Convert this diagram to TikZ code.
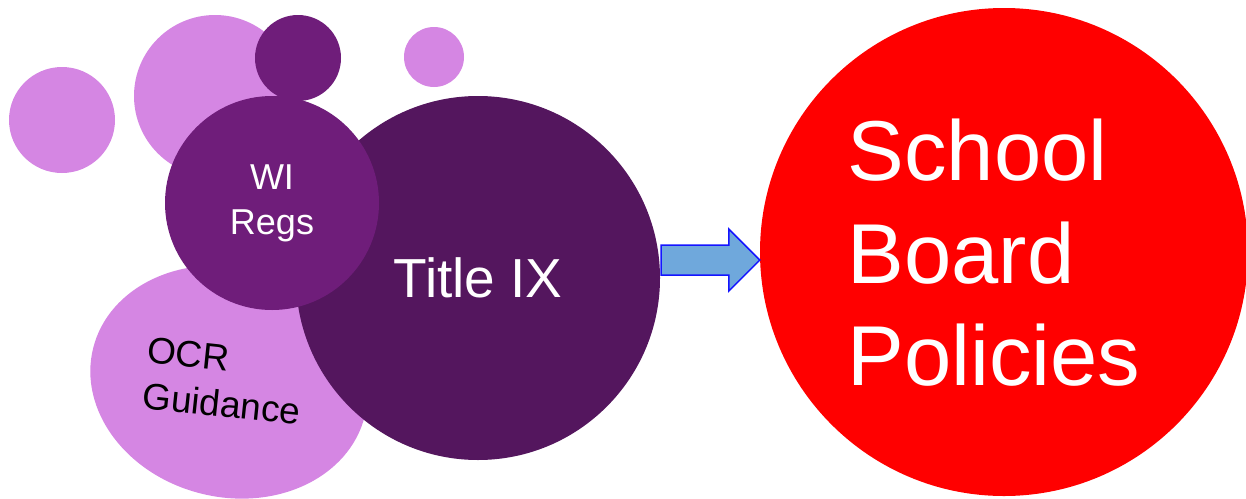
\documentclass[tikz,border=0pt]{standalone}
\usepackage{fontspec}
\setmainfont{Liberation Sans}
\usetikzlibrary{shapes.geometric,calc}
\definecolor{lilac}{RGB}{213,134,227}
\definecolor{plum}{RGB}{111,29,122}
\definecolor{aubergine}{RGB}{84,22,94}
\definecolor{signalred}{RGB}{255,0,0}
\definecolor{arrowfill}{RGB}{111,168,220}
\definecolor{arrowline}{RGB}{20,20,255}
\tikzset{
  bubble/.style={circle,inner sep=0pt,draw=none,minimum size=#1},
  fatarrow/.style={fill=arrowfill,draw=arrowline,line width=1.5pt,line join=miter},
}
\begin{document}
\begin{tikzpicture}[x=1pt,y=-1pt]
  \useasboundingbox (0,0) rectangle (1246,498);
  % background bubbles
  \node[bubble=106pt,fill=lilac] (dotA) at (62,120) {};
  \node[bubble=162pt,fill=lilac] (dotB) at (215,96) {};
  \node[bubble=60pt,fill=lilac] (dotC) at (434,57) {};
  \node[ellipse,inner sep=0pt,minimum width=280pt,minimum height=230pt,
        rotate=-14,fill=lilac] (ocr) at (229,382) {};
  \node[bubble=364pt,fill=aubergine,text=white,
        font=\fontsize{55}{60}\selectfont] (tix) at (478,278) {Title IX};
  \node[bubble=86pt,fill=plum] (dotD) at (298,58) {};
  \node[bubble=214pt,fill=plum,text=white,align=center,
        font=\fontsize{36}{45}\selectfont] (wi) at (272,203) {WI\\Regs};
  \node[align=left,rotate=-6,font=\fontsize{37}{46}\selectfont]
        (ocrtext) at (224,381) {OCR\\Guidance};
  % target
  \node[bubble=488pt,fill=signalred] (sbp) at (1004,252) {};
  \node[text=white,align=left,inner sep=0pt,
        font=\fontsize{85}{102.5}\selectfont] (sbptext) at (994,253)
        {School\\Board\\Policies};
  % arrow
  \path (tix.east) ++(1,-18) coordinate (atail);
  \coordinate (tip) at (sbp.west |- atail);
  \draw[fatarrow] ($(atail)+(0,-15)$) -- ($(tip)+(-31,-15)$)
    -- ($(tip)+(-31,-31)$) -- (tip) -- ($(tip)+(-31,31)$)
    -- ($(tip)+(-31,15)$) -- ($(atail)+(0,15)$) -- cycle;
\end{tikzpicture}
\end{document}
